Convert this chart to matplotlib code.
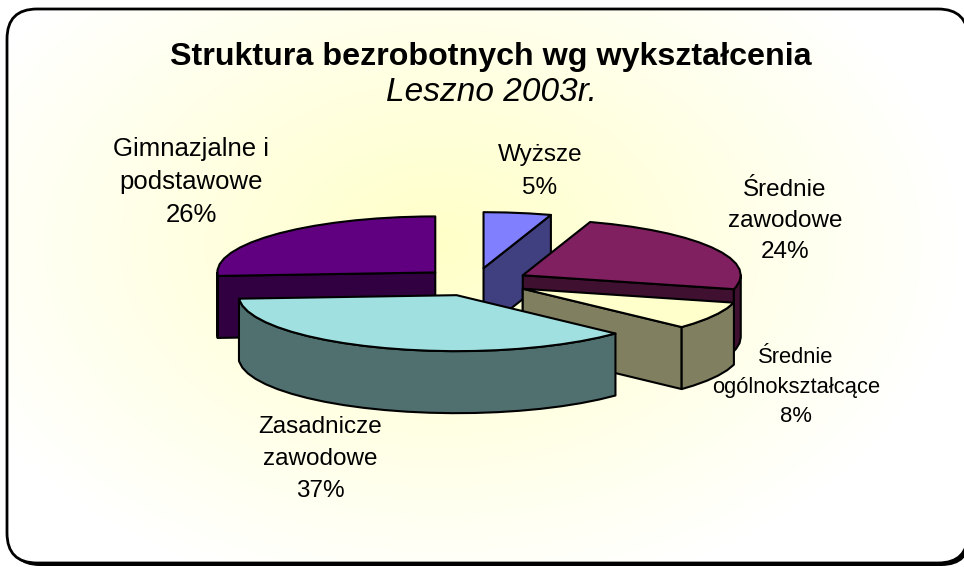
import numpy as np
import matplotlib
matplotlib.use('Agg')
import matplotlib.pyplot as plt
from matplotlib.colors import LinearSegmentedColormap
from matplotlib.patches import FancyBboxPatch, Polygon

plt.rcParams['font.family'] = ['Liberation Sans', 'DejaVu Sans']

# dane z wykresu
categories = ['Wyższe', 'Średnie\nzawodowe', 'Średnie\nogólnokształcące',
              'Zasadnicze\nzawodowe', 'Gimnazjalne i\npodstawowe']
values = [5, 24, 8, 37, 26]

top_colors = ['#8080FF', '#802060', '#FFFFCC', '#A0E0E0', '#600080']
side_colors = ['#404080', '#401030', '#808060', '#507070', '#300040']

# uklad wykresu w pikselach
CX, CY = 475, 282
RX, RY = 218, 56
DEPTH = 62
EXPLODE = 0.25
draw_order = [0, 1, 4, 2, 3]
label_pos = [(540, 171.5), (785, 221), (796, 387), (320, 459), (191, 182)]
label_size = [17.5, 17.5, 15.8, 17.5, 18.5]
label_spacing = [1.6, 1.55, 1.55, 1.58, 1.49]


def rim(ox, oy, a, b, dy=0):
    ts = np.radians(np.arange(a, b, 6.0).tolist() + [b])
    return np.column_stack([ox + RX * np.sin(ts), oy - RY * np.cos(ts) + dy])


fig = plt.figure(figsize=(9.64, 5.67), dpi=100)
ax = fig.add_axes([0, 0, 1, 1])
ax.set_xlim(0, 964)
ax.set_ylim(567, 0)
ax.axis('off')

# cien ramki, tlo z gradientem i ramka
shadow = FancyBboxPatch((10, 12), 961, 554, boxstyle='round,pad=0,rounding_size=30',
                        fc='black', ec='none', zorder=0)
ax.add_patch(shadow)
yy, xx = np.mgrid[0:567, 0:964]
dist = np.sqrt(((xx - 440) / 520.0) ** 2 + ((yy - 245) / 360.0) ** 2)
cmap = LinearSegmentedColormap.from_list('tlo', ['#FFFFC8', '#FFFFFF'])
img = ax.imshow(np.clip(dist, 0, 1), cmap=cmap, extent=(0, 964, 567, 0),
                aspect='auto', zorder=0.5, vmin=0, vmax=1)
ax.set_xlim(0, 964)
ax.set_ylim(567, 0)
# prawie przezroczyste wypelnienie, bo bez niego agg psuje krzywe poza obrazem
frame = FancyBboxPatch((7, 9), 961, 554, boxstyle='round,pad=0,rounding_size=30',
                       fc=(1, 1, 1, 0.01), ec='black', lw=2, zorder=1)
ax.add_patch(frame)
img.set_clip_path(frame)

# kawalki kolowe
edges = np.cumsum([0] + values) * 3.6
for i in draw_order:
    a, b = edges[i], edges[i + 1]
    mid = np.radians((a + b) / 2)
    ox = CX + EXPLODE * RX * np.sin(mid)
    oy = CY - EXPLODE * RY * np.cos(mid)
    style = dict(ec='black', lw=1.5, joinstyle='round', zorder=2 + draw_order.index(i))

    for ang, visible in ((a, np.sin(np.radians(a)) < -0.01), (b, np.sin(np.radians(b)) > 0.01)):
        if visible:
            p = rim(ox, oy, ang, ang)[0]
            ax.add_patch(Polygon([(ox, oy), p, (p[0], p[1] + DEPTH), (ox, oy + DEPTH)],
                                 fc=side_colors[i], **style))
    lo, hi = max(a, 90), min(b, 270)
    if lo < hi:
        ax.add_patch(Polygon(np.vstack([rim(ox, oy, lo, hi), rim(ox, oy, lo, hi, DEPTH)[::-1]]),
                             fc=side_colors[i], **style))
    ax.add_patch(Polygon(np.vstack([[(ox, oy)], rim(ox, oy, a, b)]), fc=top_colors[i], **style))

# tytul
ax.text(491, 65, 'Struktura bezrobotnych wg wykształcenia', fontsize=23.2, fontweight='bold',
        ha='center', va='baseline', zorder=20)
ax.text(491, 101, 'Leszno 2003r.', fontsize=24, fontstyle='italic', ha='center', va='baseline', zorder=20)

# etykiety
for name, v, pos, size, sp in zip(categories, values, label_pos, label_size, label_spacing):
    ax.text(pos[0], pos[1], f'{name}\n{v}%', fontsize=size, ha='center', va='center',
            multialignment='center', linespacing=sp, zorder=20)

fig.savefig('out.png', dpi=100)
